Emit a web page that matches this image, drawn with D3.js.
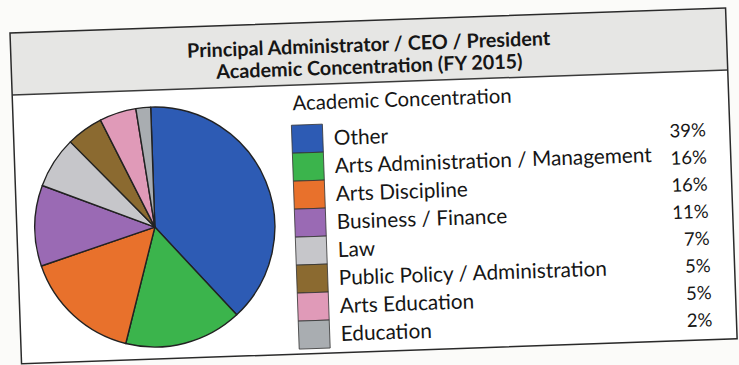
<!DOCTYPE html>
<html>
<head>
<meta charset="utf-8">
<script src="https://cdn.jsdelivr.net/npm/d3@7"></script>
<style>
  body { margin: 0; background: #fbfbf9; }
  svg { display: block; }
  text { font-family: Lato, "Open Sans", sans-serif; fill: #161616; }
</style>
</head>
<body>
<svg id="chart" width="739" height="365"></svg>
<script>
// -------------------------------------------------------------------------- //
//                                 DATA                                       //
// -------------------------------------------------------------------------- //

var titleLines = ["Principal Administrator / CEO / President",
                  "Academic Concentration (FY 2015)"];
var legendTitle = "Academic Concentration";
var categories = ["Other", "Arts Administration / Management", "Arts Discipline",
                  "Business / Finance", "Law", "Public Policy / Administration",
                  "Arts Education", "Education"];
var shares = [39, 16, 16, 11, 7, 5, 5, 2];
var sliceColors = ["#2d5bb4", "#3bb44c", "#e8712c", "#9a6ab4",
                   "#c6c6ca", "#8b6a30", "#e09ab8", "#a9adb1"];

// -------------------------------------------------------------------------- //
//                                LAYOUT                                      //
// -------------------------------------------------------------------------- //

// the scanned chart sits a little tilted on the page
var boxW = 716, boxH = 331, bandH = 62;

var svg = d3.select("#chart");
var g = svg.append("g").attr("transform", "translate(10,33) rotate(-2)");

var data = categories.map(function(c, i) { return { name: c, value: shares[i] }; });
var color = d3.scaleOrdinal().domain(categories).range(sliceColors);

// frame + title band
g.append("rect")
    .attr("width", boxW).attr("height", boxH)
    .attr("fill", "#ffffff");
g.append("rect")
    .attr("width", boxW).attr("height", bandH)
    .attr("fill", "#e6e6e4");
g.append("line")
    .attr("x1", 0).attr("x2", boxW).attr("y1", bandH).attr("y2", bandH)
    .attr("stroke", "#3a3a3a").attr("stroke-width", 1.5);
g.append("rect")
    .attr("width", boxW).attr("height", boxH)
    .attr("fill", "none").attr("stroke", "#2a2a2a").attr("stroke-width", 1.5);

g.selectAll(".title")
    .data(titleLines)
    .join("text")
    .attr("class", "title")
    .attr("x", boxW / 2)
    .attr("y", function(d, i) { return 24 + i * 22; })
    .attr("dy", "0.35em")
    .attr("text-anchor", "middle")
    .attr("font-weight", "bold")
    .attr("font-size", 19.8)
    .text(function(d) { return d; });

// -------------------------------------------------------------------------- //
//                                  PIE                                       //
// -------------------------------------------------------------------------- //

var pie = d3.pie().sort(null).value(function(d) { return d.value; });
var arc = d3.arc().innerRadius(0).outerRadius(120);

g.append("g")
    .attr("transform", "translate(138,199)")
    .selectAll("path")
    .data(pie(data))
    .join("path")
    .attr("d", arc)
    .attr("fill", function(d) { return color(d.data.name); })
    .attr("stroke", "#222")
    .attr("stroke-width", 1.4)
    .attr("stroke-linejoin", "round");

// -------------------------------------------------------------------------- //
//                                 LEGEND                                     //
// -------------------------------------------------------------------------- //

var rowY = d3.scaleBand().domain(categories).range([102, 326]);
var pctY = d3.scalePoint().domain(categories).range([121, 311]);
var pct = d3.format(".0%");

g.append("text")
    .attr("x", 280).attr("y", 80)
    .attr("dy", "0.35em")
    .attr("font-size", 20.3)
    .text(legendTitle);

var legend = g.append("g");

legend.selectAll("rect")
    .data(data)
    .join("rect")
    .attr("x", 278)
    .attr("y", function(d) { return rowY(d.name); })
    .attr("width", 31)
    .attr("height", rowY.bandwidth())
    .attr("fill", function(d) { return color(d.name); })
    .attr("stroke", "#333")
    .attr("stroke-width", 0.8);

legend.selectAll(".lab")
    .data(data)
    .join("text")
    .attr("class", "lab")
    .attr("x", 320)
    .attr("y", function(d) { return rowY(d.name) + rowY.bandwidth() / 2; })
    .attr("dy", "0.35em")
    .attr("font-size", 20.8)
    .text(function(d) { return d.name; });

legend.selectAll(".pct")
    .data(data)
    .join("text")
    .attr("class", "pct")
    .attr("x", 692)
    .attr("y", function(d) { return pctY(d.name); })
    .attr("dy", "0.35em")
    .attr("text-anchor", "end")
    .attr("font-size", 18.5)
    .text(function(d) { return pct(d.value / 100); });
</script>
</body>
</html>
